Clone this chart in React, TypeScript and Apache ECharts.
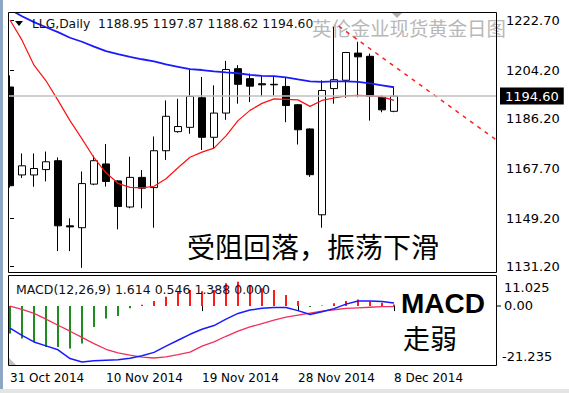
import React, { useEffect, useRef } from "react";
import * as echarts from "echarts";

const dates = [
  "31 Oct 2014", "2 Nov 2014", "3 Nov 2014", "4 Nov 2014", "5 Nov 2014", "6 Nov 2014", "7 Nov 2014",
  "9 Nov 2014", "10 Nov 2014", "11 Nov 2014", "12 Nov 2014", "13 Nov 2014", "14 Nov 2014", "16 Nov 2014",
  "17 Nov 2014", "18 Nov 2014", "19 Nov 2014", "20 Nov 2014", "21 Nov 2014", "23 Nov 2014", "24 Nov 2014",
  "25 Nov 2014", "26 Nov 2014", "27 Nov 2014", "28 Nov 2014", "30 Nov 2014", "1 Dec 2014", "2 Dec 2014",
  "3 Dec 2014", "4 Dec 2014", "5 Dec 2014", "7 Dec 2014", "8 Dec 2014",
];
const emptySlots = 8;

const opens = [1198.0, 1165.3, 1165.3, 1167.3, 1170.6, 1146.4, 1145.7, 1161.9, 1169.4, 1163.1, 1153.4, 1164.4, 1160.6, 1174.3, 1181.4, 1183.0, 1194.0, 1179.3, 1188.3, 1204.8, 1201.1, 1199.2, 1199.0, 1198.2, 1191.4, 1182.4, 1150.5, 1197.4, 1200.5, 1210.6, 1209.4, 1194.2, 1188.95];
const closes = [1161.3, 1168.7, 1167.7, 1170.2, 1146.4, 1146.0, 1162.1, 1170.6, 1162.9, 1153.6, 1164.4, 1160.4, 1174.3, 1187.1, 1183.3, 1194.5, 1179.3, 1188.3, 1204.5, 1199.0, 1198.3, 1198.8, 1198.8, 1191.1, 1182.1, 1165.4, 1196.7, 1200.7, 1210.8, 1209.2, 1194.5, 1189.5, 1194.6];
const lows = [1160.6, 1164.2, 1160.9, 1162.9, 1137.0, 1137.0, 1130.8, 1161.5, 1161.0, 1145.1, 1152.9, 1152.9, 1145.7, 1170.9, 1181.0, 1180.6, 1174.6, 1175.2, 1185.8, 1191.8, 1192.4, 1194.5, 1194.8, 1184.9, 1176.6, 1164.6, 1145.7, 1191.8, 1194.0, 1194.2, 1185.5, 1188.6, 1188.62];
const highs = [1202.3, 1173.3, 1173.3, 1174.0, 1171.8, 1149.2, 1166.6, 1172.5, 1176.8, 1163.3, 1172.1, 1167.1, 1179.6, 1193.0, 1193.6, 1204.6, 1201.7, 1198.6, 1207.7, 1206.1, 1203.0, 1202.3, 1202.0, 1201.7, 1191.6, 1182.6, 1200.5, 1220.3, 1211.0, 1214.8, 1210.4, 1194.9, 1197.87];

const maRed = [1222.9, 1215.4, 1206.1, 1200.3, 1193.0, 1185.5, 1178.7, 1171.7, 1166.1, 1162.2, 1160.7, 1160.5, 1161.1, 1163.9, 1168.0, 1171.9, 1173.8, 1175.3, 1179.8, 1185.5, 1189.3, 1191.9, 1193.6, 1193.4, 1193.2, 1190.8, 1193.0, 1193.9, 1194.7, 1194.9, 1194.7, 1194.3, 1193.0];
const maBlue = [1226.8, 1224.3, 1222.1, 1220.2, 1218.4, 1216.3, 1214.8, 1213.0, 1211.3, 1210.2, 1209.2, 1208.3, 1207.5, 1206.4, 1205.5, 1204.6, 1204.3, 1203.8, 1203.4, 1203.1, 1202.5, 1202.1, 1202.0, 1201.6, 1200.8, 1200.1, 1199.9, 1200.1, 1200.1, 1199.9, 1199.3, 1198.6, 1197.9];

const trendLine = [[27.4, 1220.6], [40.5, 1178.4]];
const bidPrice = 1194.6;

const macdDif = [-7.8, -10.4, -12.7, -14.1, -15.5, -18.6, -19.8, -19.4, -19.2, -19.0, -18.5, -17.6, -16.4, -14.2, -12.1, -10.0, -8.2, -6.9, -4.6, -2.6, -1.4, -0.8, -0.5, -0.5, -1.6, -3.0, -2.0, -0.9, 0.7, 1.8, 1.8, 1.6, 1.1];
const macdDea = [0.0, -1.2, -2.6, -4.6, -6.8, -8.9, -11.1, -13.3, -15.3, -16.6, -17.4, -18.1, -18.4, -18.0, -17.2, -16.3, -14.2, -12.7, -10.7, -8.9, -7.4, -6.2, -5.0, -3.9, -3.2, -2.5, -1.8, -1.3, -0.8, -0.6, -0.4, -0.2, -0.2];
const macdHist = [-9.7, -11.5, -12.7, -14.5, -14.5, -15.0, -13.3, -7.4, -4.4, -3.5, -0.8, 0.5, 1.8, 3.3, 5.1, 5.7, 5.3, 5.7, 8.1, 8.6, 7.5, 6.3, 5.7, 3.9, 1.8, -0.3, 0.2, 1.0, 1.8, 2.3, 1.6, 1.2, 0.6];

const priceTicks = [1222.7, 1204.2, 1186.2, 1167.7, 1149.2, 1131.2];
const macdTickLabels = ["11.025", "0.00", "-21.235"];

const headerText = "LLG,Daily  1188.95 1197.87 1188.62 1194.60";
const macdHeader = "MACD(12,26,9) 1.614 0.546 1.388 0.000";
const watermark = "英伦金业现货黄金日图";
const note1 = "受阻回落，振荡下滑";
const note2a = "MACD";
const note2b = "走弱";

const FONT = "DejaVu Sans";
const CJK = "Noto Sans CJK SC";

export default function App() {
  const ref = useRef<HTMLDivElement>(null);
  useEffect(() => {
    if (!ref.current) return;
    const chart = echarts.init(ref.current, undefined, { renderer: "svg" });
    const cats = [...dates, ...Array.from({ length: emptySlots }, () => "")];
    const candles = opens.map((o, i) => [o, closes[i], lows[i], highs[i]]);
    const showIdx = (i: number) => i % 8 === 0 && i < dates.length;

    const option: any = {
      animation: false,
      backgroundColor: "#ffffff",
      grid: [
        { left: 4, top: 13, width: 492, height: 260 },
        { left: 4, top: 275, width: 492, height: 91 },
      ],
      xAxis: [
        { type: "category", gridIndex: 0, data: cats, boundaryGap: true, axisLine: { show: false }, axisTick: { show: false }, axisLabel: { show: false }, splitLine: { show: false } },
        {
          type: "category", gridIndex: 1, data: cats, boundaryGap: true,
          axisLine: { show: false },
          axisTick: { show: true, alignWithLabel: true, interval: (i: number) => showIdx(i), length: 5, lineStyle: { color: "#000" } },
          axisLabel: { show: true, interval: (i: number) => showIdx(i), align: "left", color: "#000", fontSize: 12, fontFamily: FONT, margin: 6 },
          splitLine: { show: false },
        },
        { type: "value", gridIndex: 0, min: -0.5, max: dates.length + emptySlots - 0.5, show: false },
      ],
      yAxis: [
        {
          type: "value", gridIndex: 0, position: "right", min: 1128.87, max: 1225.49,
          axisLine: { show: false }, splitLine: { show: false },
          axisTick: { show: true, customValues: priceTicks, length: 4, lineStyle: { color: "#000" } },
          axisLabel: { show: true, customValues: priceTicks, formatter: (v: number) => v.toFixed(2), color: "#000", fontSize: 13, fontFamily: FONT, margin: 10 },
        },
        {
          type: "value", gridIndex: 1, position: "right", min: -21.235, max: 11.025,
          axisLine: { show: false }, splitLine: { show: false }, axisTick: { show: false }, axisLabel: { show: false },
        },
      ],
      series: [
        {
          type: "line", xAxisIndex: 0, yAxisIndex: 0, data: [], z: 1, silent: true,
          markLine: {
            symbol: "none", silent: true, animation: false,
            data: [{ yAxis: bidPrice }],
            lineStyle: { color: "#c0c0c0", type: "solid", width: 1.5 },
            label: { show: true, position: "end", formatter: bidPrice.toFixed(2), backgroundColor: "#000", color: "#fff", padding: [2, 5, 2, 5], fontSize: 13, fontFamily: FONT, distance: 4 },
          },
        },
        {
          type: "candlestick", xAxisIndex: 0, yAxisIndex: 0, data: candles, barWidth: 7, z: 2,
          itemStyle: { color: "#ffffff", color0: "#000000", borderColor: "#000000", borderColor0: "#000000", borderWidth: 1 },
        },
        { type: "line", xAxisIndex: 0, yAxisIndex: 0, data: maBlue, symbol: "none", z: 3, lineStyle: { color: "#1a1aff", width: 1.8 } },
        { type: "line", xAxisIndex: 0, yAxisIndex: 0, data: maRed, symbol: "none", z: 3, lineStyle: { color: "#ff1010", width: 1.2 } },
        { type: "line", xAxisIndex: 2, yAxisIndex: 0, data: trendLine, symbol: "none", z: 3, lineStyle: { color: "#ff2020", width: 1.5, type: [4, 5] } },
        {
          type: "bar", xAxisIndex: 1, yAxisIndex: 1, barWidth: 2, z: 2,
          data: macdHist.map((v) => ({ value: v, itemStyle: { color: v < 0 ? "#1e8c1e" : "#ff1a1a" } })),
        },
        { type: "line", xAxisIndex: 1, yAxisIndex: 1, data: macdDea, symbol: "none", z: 3, lineStyle: { color: "#f0305a", width: 1.3 } },
        { type: "line", xAxisIndex: 1, yAxisIndex: 1, data: macdDif, symbol: "none", z: 3, lineStyle: { color: "#1a1aff", width: 1.5 } },
      ],
      graphic: [
        { type: "text", x: 312, y: 27, z: 1, style: { text: watermark, fill: "#b8b8b8", fontSize: 19.4, fontFamily: CJK, align: "left", verticalAlign: "middle" } },
        { type: "rect", x: 0, y: 0, z: 90, shape: { x: 0, y: 0, width: 8, height: 393 }, style: { fill: "#ffffff" } },
        { type: "rect", x: 0, y: 0, z: 91, shape: { x: 0, y: 0, width: 3, height: 393 }, style: { fill: "#8ea6c4" } },
        { type: "rect", z: 91, shape: { x: 0, y: 389, width: 569, height: 4 }, style: { fill: "#e4e4e4" } },
        { type: "rect", z: 92, shape: { x: 8.5, y: 12.5, width: 488, height: 260 }, style: { fill: "none", stroke: "#000", lineWidth: 1 } },
        { type: "rect", z: 92, shape: { x: 8.5, y: 275.5, width: 488, height: 90 }, style: { fill: "none", stroke: "#000", lineWidth: 1 } },
        { type: "polygon", z: 93, shape: { points: [[15, 21], [23, 21], [19, 26]] }, style: { fill: "#000" } },
        { type: "polygon", z: 93, shape: { points: [[392, 13], [402, 13], [397, 18]] }, style: { fill: "#b0b0b0" } },
        { type: "polygon", z: 93, shape: { points: [[9, 358], [9, 365], [16, 365]] }, style: { fill: "#c0c0c0" } },
        { type: "text", x: 32, y: 24, z: 95, style: { text: headerText, fill: "#111", fontSize: 12.3, fontFamily: FONT, align: "left", verticalAlign: "middle" } },
        { type: "text", x: 16, y: 289, z: 95, style: { text: macdHeader, fill: "#111", fontSize: 12.5, fontFamily: FONT, align: "left", verticalAlign: "middle" } },
        { type: "text", x: 187, y: 246, z: 95, style: { text: note1, fill: "#000", fontSize: 28, fontFamily: CJK, align: "left", verticalAlign: "middle" } },
        { type: "text", x: 401, y: 303, z: 95, style: { text: note2a, fill: "#000", fontSize: 28, fontWeight: "bold", fontFamily: "Liberation Sans", align: "left", verticalAlign: "middle" } },
        { type: "text", x: 403, y: 337, z: 95, style: { text: note2b, fill: "#000", fontSize: 27, fontFamily: CJK, align: "left", verticalAlign: "middle" } },
        { type: "text", x: 504, y: 287, z: 95, style: { text: macdTickLabels[0], fill: "#000", fontSize: 13, fontFamily: FONT, align: "left", verticalAlign: "middle" } },
        { type: "text", x: 504, y: 305, z: 95, style: { text: macdTickLabels[1], fill: "#000", fontSize: 13, fontFamily: FONT, align: "left", verticalAlign: "middle" } },
        { type: "text", x: 502, y: 356, z: 95, style: { text: macdTickLabels[2], fill: "#000", fontSize: 13, fontFamily: FONT, align: "left", verticalAlign: "middle" } },
        { type: "line", z: 95, shape: { x1: 497, y1: 306, x2: 501, y2: 306 }, style: { stroke: "#000", lineWidth: 1 } },
      ],
    };
    chart.setOption(option);
    return () => chart.dispose();
  }, []);
  return <div ref={ref} style={{ width: 569, height: 393, position: "absolute", left: 0, top: 0 }} />;
}
